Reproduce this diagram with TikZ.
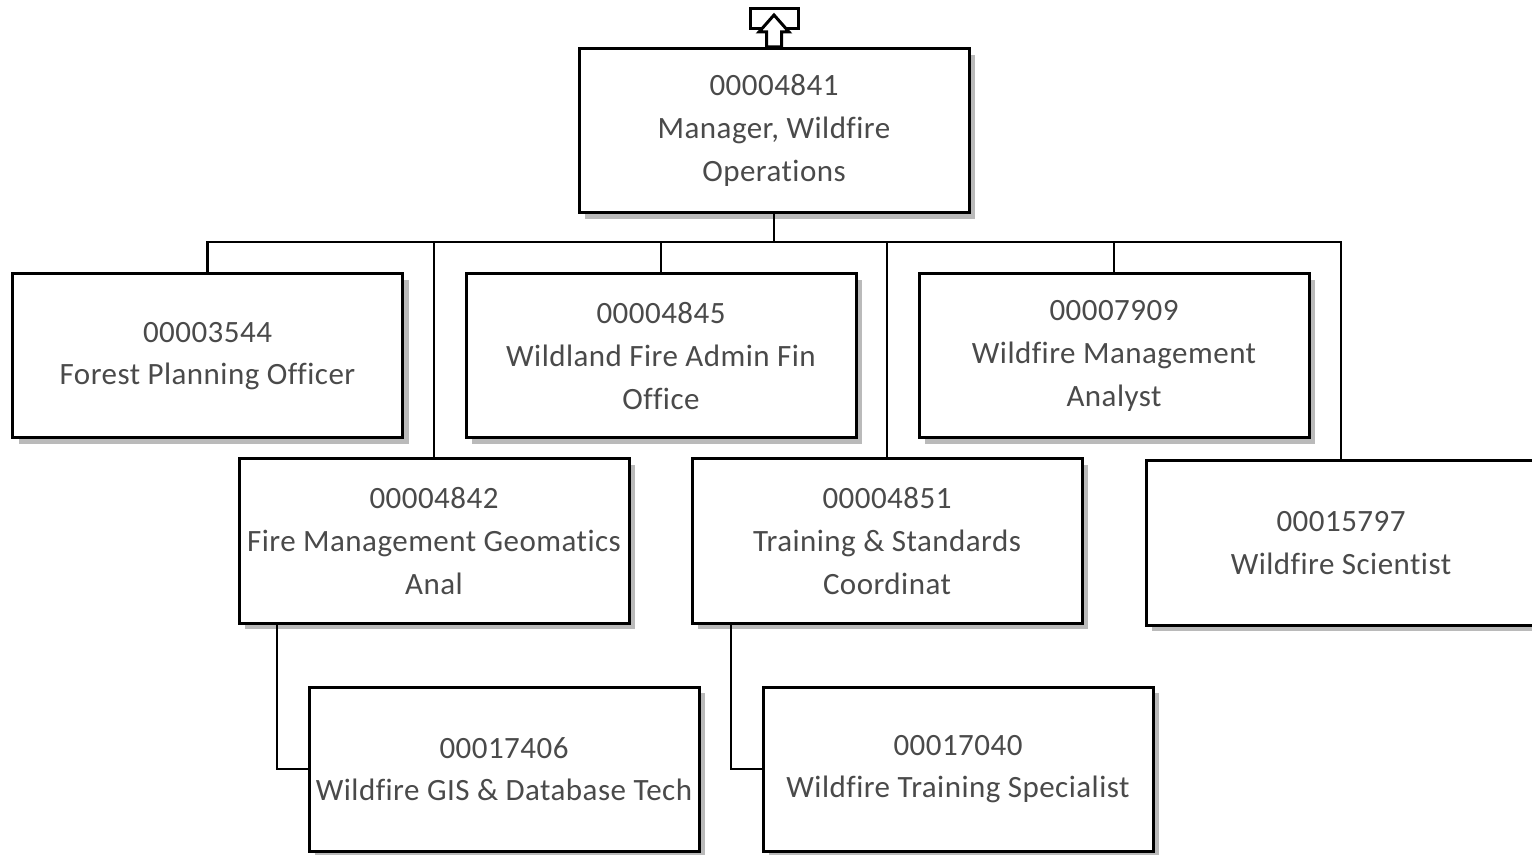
\documentclass[tikz,border=0pt]{standalone}
\usepackage{fontspec}
\setmainfont{Carlito}[Ligatures={NoCommon}, LetterSpace=1.5]
\usetikzlibrary{shadows,calc}
\definecolor{txt}{HTML}{4A4A4A}
\tikzset{
  posbox/.style={draw=black, line width=1.5pt, fill=white, minimum width=195pt, minimum height=82pt,
    inner sep=0pt, align=center, text=txt, font=\fontsize{15.5pt}{21.3pt}\selectfont,
    drop shadow={shadow xshift=3.2pt, shadow yshift=-3.2pt, fill=black!27, opacity=1}},
  link/.style={draw=black, line width=1.3pt}
}
\begin{document}
\begin{tikzpicture}[x=0.5pt, y=-0.5pt]
\useasboundingbox (0,0) rectangle (1532,855);
% nodes
\node[posbox] (top) at (774,130.5) {00004841\\Manager, Wildfire\\Operations};
\node[posbox] (A) at (207.5,356) {00003544\\Forest Planning Officer};
\node[posbox] (B) at (661,356) {00004845\\Wildland Fire Admin Fin\\Office};
\node[posbox] (C) at (1114,356) {00007909\\Wildfire Management\\Analyst};
\node[posbox] (D) at (434,541) {00004842\\Fire Management Geomatics\\Anal};
\node[posbox] (E) at (887,541) {00004851\\Training \& Standards\\Coordinat};
\node[posbox] (F) at (1341,543) {00015797\\Wildfire Scientist};
\node[posbox] (G) at (504,769) {00017406\\Wildfire GIS \& Database Tech};
\node[posbox] (H) at (958,769) {00017040\\Wildfire Training Specialist};
% connectors
\coordinate (bus) at (774,242);
\draw[link] (top.south) -- (bus);
\draw[link] (A.north) -- (A.north |- bus) -- (F.north |- bus) -- (F.north);
\draw[link] (B.north) -- (B.north |- bus);
\draw[link] (C.north) -- (C.north |- bus);
\draw[link] (D.north) -- (D.north |- bus);
\draw[link] (E.north) -- (E.north |- bus);
\draw[link] ($(D.south)+(-157,0)$) |- (G.west);
\draw[link] ($(E.south)+(-156,0)$) |- (H.west);
% up-link icon
\draw[line width=1.5pt, fill=white] (750,9) rectangle (798,29);
\draw[line width=1.5pt, fill=white, line join=miter]
  (774,15) -- (789,32) -- (781.5,32) -- (781.5,47) -- (766.5,47) -- (766.5,32) -- (759,32) -- cycle;
\end{tikzpicture}
\end{document}
